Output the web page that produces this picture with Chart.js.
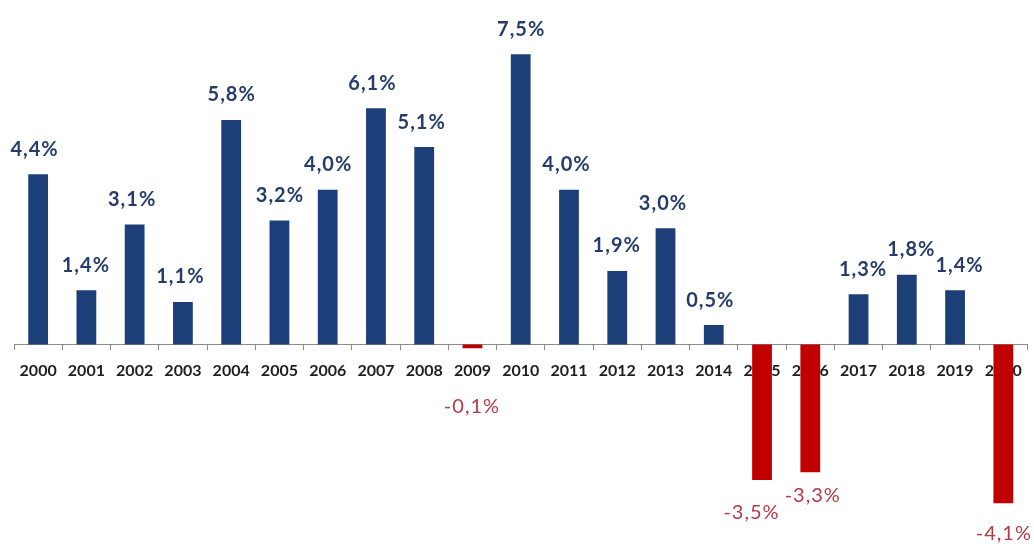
<!DOCTYPE html>
<html><head><meta charset="utf-8">
<script src="https://cdn.jsdelivr.net/npm/chart.js@4/dist/chart.umd.min.js"></script>
<style>html,body{margin:0;padding:0;background:#fff}#wrap{width:1034px;height:544px}</style>
</head><body><div id="wrap"><canvas id="c" width="1034" height="544"></canvas></div>
<script>
const years = ['2000','2001','2002','2003','2004','2005','2006','2007','2008','2009','2010',
               '2011','2012','2013','2014','2015','2016','2017','2018','2019','2020'];
const growth = [4.4,1.4,3.1,1.1,5.8,3.2,4.0,6.1,5.1,-0.1,7.5,4.0,1.9,3.0,0.5,-3.5,-3.3,1.3,1.8,1.4,-4.1];
const valueLabels = ['4,4%','1,4%','3,1%','1,1%','5,8%','3,2%','4,0%','6,1%','5,1%','-0,1%','7,5%',
                     '4,0%','1,9%','3,0%','0,5%','-3,5%','-3,3%','1,3%','1,8%','1,4%','-4,1%'];
// label nudges (pixels) — styling only
const labelDx = [-4,-1,-3,-3,0,0,0,-4,-3,-1,0,-3,-1,-3,-4,-11,2,4,4,4,0];
const labelDy = [0,0,0,0,0,0,0,0,0,58,0,0,0,0,0,33,23,0,0,0,30];

const BLUE = '#1d3f78', RED = '#c00000';

const valuePlugin = {
  id: 'valueLabels',
  afterDatasetsDraw(chart) {
    const ctx = chart.ctx;
    const meta = chart.getDatasetMeta(0);
    ctx.save();
    ctx.textAlign = 'center';
    ctx.textBaseline = 'middle';
    try { ctx.letterSpacing = '1px'; } catch(e) {}
    meta.data.forEach((el, i) => {
      const v = growth[i];
      const x = el.x + labelDx[i] + 0.5;
      let y;
      if (v >= 0) {
        ctx.font = 'bold 20px Lato';
        ctx.fillStyle = '#263d6c';
        y = el.y - 25;
      } else {
        ctx.font = '20px Lato';
        ctx.fillStyle = '#b53a48';
        y = el.y + labelDy[i];
      }
      ctx.fillText(valueLabels[i], x, y);
    });
    ctx.restore();
  }
};

new Chart(document.getElementById('c'), {
  type: 'bar',
  data: {
    labels: years,
    datasets: [{
      data: growth,
      backgroundColor: growth.map(v => v < 0 ? RED : BLUE),
      categoryPercentage: 1,
      barPercentage: 0.41
    }]
  },
  options: {
    responsive: false,
    animation: false,
    devicePixelRatio: 1,
    layout: { padding: { left: 14, right: 5, top: 0, bottom: 0 } },
    plugins: { legend: { display: false }, tooltip: { enabled: false } },
    scales: {
      y: { display: false, min: -5.155, max: 8.90 },
      x: {
        position: { y: 0 },
        afterFit: s => { s.height = 0; },
        offset: true,
        border: { display: true, color: '#8c8c8c', width: 1 },
        grid: { display: true, drawOnChartArea: false, drawTicks: true, tickLength: 5, color: '#8c8c8c', offset: true },
        ticks: { color: '#1e1e1e', font: { family: 'Lato', size: 16, weight: 'bold' }, padding: 12, maxRotation: 0, autoSkip: false }
      }
    }
  },
  plugins: [valuePlugin]
});
</script></body></html>
